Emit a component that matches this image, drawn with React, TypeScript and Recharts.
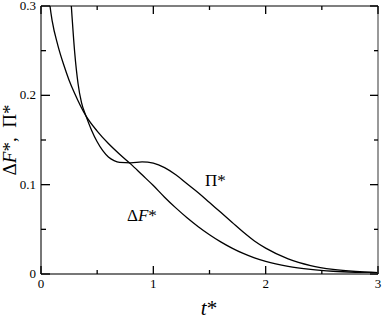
import { LineChart, Line, XAxis, YAxis } from "recharts";

// ΔF* curve
const dfT = [0.05, 0.08, 0.1, 0.15, 0.2, 0.25, 0.3, 0.4, 0.5, 0.6, 0.7, 0.8, 0.9, 1.0, 1.1, 1.2, 1.3, 1.4, 1.5, 1.6, 1.7, 1.8, 1.9, 2.0, 2.2, 2.4, 2.6, 2.8, 3.0];
const dfVals = [0.34, 0.3, 0.283, 0.256, 0.235, 0.217, 0.202, 0.177, 0.16, 0.146, 0.134, 0.123, 0.111, 0.099, 0.086, 0.074, 0.063, 0.053, 0.044, 0.036, 0.029, 0.023, 0.018, 0.014, 0.0085, 0.0052, 0.0031, 0.0018, 0.001];

// Π* curve
const piT = [0.24, 0.27, 0.3, 0.33, 0.36, 0.4, 0.45, 0.5, 0.55, 0.6, 0.65, 0.7, 0.8, 0.9, 1.0, 1.1, 1.2, 1.3, 1.4, 1.5, 1.6, 1.7, 1.8, 1.9, 2.0, 2.2, 2.4, 2.6, 2.8, 3.0];
const piVals = [0.36, 0.3, 0.248, 0.213, 0.192, 0.177, 0.161, 0.148, 0.138, 0.131, 0.127, 0.125, 0.1245, 0.1255, 0.124, 0.119, 0.111, 0.101, 0.091, 0.08, 0.069, 0.058, 0.047, 0.037, 0.029, 0.017, 0.0095, 0.0052, 0.0028, 0.0015];

const xTicks = [0, 0.5, 1, 1.5, 2, 2.5, 3];
const xLabels = ["0", "", "1", "", "2", "", "3"];
const yTicks = [0, 0.05, 0.1, 0.15, 0.2, 0.25, 0.3];
const yLabels = ["0", "", "0.1", "", "0.2", "", "0.3"];

const dfData = dfT.map((x, i) => ({ x, y: dfVals[i] }));
const piData = piT.map((x, i) => ({ x, y: piVals[i] }));

const font = "Liberation Serif, Times New Roman, serif";
const axisGray = "#777";
const tickColor = "#000";
const tickW = 1.3;

function BottomTick({ x, y, index }: any) {
  const major = xLabels[index] !== "";
  return (
    <g>
      <path d={`M${x},${y}V${y - (major ? 8 : 4)}`} stroke={tickColor} strokeWidth={tickW} />
      {major && (
        <text x={x} y={y + 14} textAnchor="middle" style={{ fontSize: 13, fontFamily: font }} fill="#000">
          {xLabels[index]}
        </text>
      )}
    </g>
  );
}

function TopTick({ x, y, index }: any) {
  const major = xLabels[index] !== "";
  return <path d={`M${x},${y}V${y + (major ? 8 : 4)}`} stroke={tickColor} strokeWidth={tickW} />;
}

function LeftTick({ x, y, index }: any) {
  const major = yLabels[index] !== "";
  return (
    <g>
      <path d={`M${x},${y}H${x + (major ? 9 : 5)}`} stroke={tickColor} strokeWidth={tickW} />
      {major && (
        <text x={x - 5} y={y + 4} textAnchor="end" style={{ fontSize: 13, fontFamily: font }} fill="#000">
          {yLabels[index]}
        </text>
      )}
    </g>
  );
}

function RightTick({ x, y, index }: any) {
  const major = yLabels[index] !== "";
  return <path d={`M${x},${y}H${x - (major ? 8 : 4)}`} stroke={tickColor} strokeWidth={tickW} />;
}

export default function App() {
  return (
    <div style={{ position: "absolute", left: 0, top: 0, width: 382, height: 319, background: "#fff" }}>
      <LineChart width={382} height={319} margin={{ top: 5, right: 3, bottom: 0, left: 0 }}>
        <XAxis
          dataKey="x"
          type="number"
          domain={[0, 3]}
          allowDataOverflow
          ticks={xTicks}
          interval={0}
          height={45}
          tickSize={0}
          tickMargin={0}
          tick={<BottomTick />}
          axisLine={{ stroke: axisGray, strokeWidth: 2 }}
          tickLine={false}
        />
        <XAxis
          xAxisId="top"
          orientation="top"
          dataKey="x"
          type="number"
          domain={[0, 3]}
          allowDataOverflow
          ticks={xTicks}
          interval={0}
          height={1}
          tickSize={0}
          tickMargin={0}
          tick={<TopTick />}
          axisLine={{ stroke: "#000", strokeWidth: 1.2 }}
          tickLine={false}
        />
        <YAxis
          type="number"
          domain={[0, 0.3]}
          allowDataOverflow
          ticks={yTicks}
          interval={0}
          width={41}
          tickSize={0}
          tickMargin={0}
          tick={<LeftTick />}
          axisLine={{ stroke: axisGray, strokeWidth: 2 }}
          tickLine={false}
        />
        <YAxis
          yAxisId="r"
          orientation="right"
          type="number"
          domain={[0, 0.3]}
          allowDataOverflow
          ticks={yTicks}
          interval={0}
          width={1}
          tickSize={0}
          tickMargin={0}
          tick={<RightTick />}
          axisLine={{ stroke: axisGray, strokeWidth: 1.5 }}
          tickLine={false}
        />
        <Line data={dfData} dataKey="y" type="monotone" stroke="#000" strokeWidth={1.3} dot={false} isAnimationActive={false} />
        <Line
          data={piData}
          dataKey="y"
          xAxisId="top"
          yAxisId="r"
          type="monotone"
          stroke="#000"
          strokeWidth={1.3}
          dot={false}
          isAnimationActive={false}
        />
      </LineChart>
      <svg width={382} height={319} style={{ position: "absolute", left: 0, top: 0, pointerEvents: "none", fontFamily: font }}>
        <text x={205} y={186} fontSize={17} fill="#000">
          Π*
        </text>
        <text x={127} y={221} fontSize={17} fill="#000">
          Δ<tspan fontStyle="italic">F</tspan>*
        </text>
        <text x={209} y={315} textAnchor="middle" fontSize={21} fill="#000">
          <tspan fontStyle="italic">t</tspan>*
        </text>
        <text transform="translate(16,140) rotate(-90)" textAnchor="middle" fontSize={19} fill="#000" xmlSpace="preserve">
          Δ<tspan fontStyle="italic">F</tspan>*,  Π*
        </text>
      </svg>
    </div>
  );
}
